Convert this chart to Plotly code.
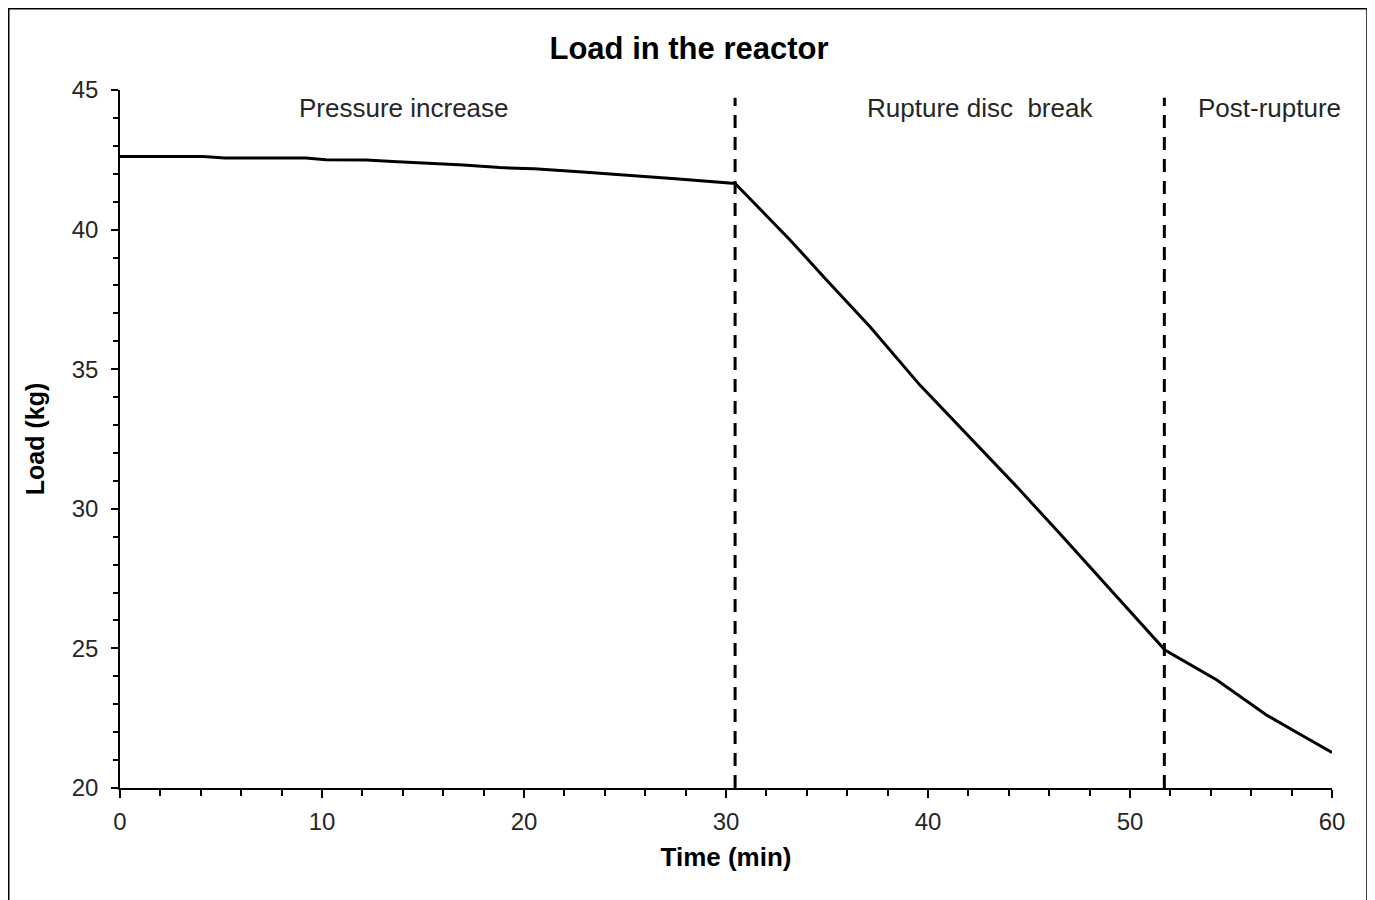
import plotly.graph_objects as go

# Data
time_min = [0, 4.1, 5.2, 9.2, 10.2, 12.2, 13.5, 15.3, 17, 18.8, 20.5, 22.9, 25, 27.5, 30.45,
            33.17, 35, 37.13, 39.6, 42.2, 44.5, 46.5, 49, 51.73, 54.3, 56.77, 58.5, 60]
load_kg = [42.62, 42.62, 42.56, 42.56, 42.50, 42.49, 42.44, 42.38, 42.31, 42.22, 42.18, 42.06,
           41.96, 41.82, 41.65, 39.63, 38.18, 36.52, 34.43, 32.46, 30.71, 29.13, 27.14, 24.94,
           23.87, 22.61, 21.89, 21.27]

phase_bounds = [30.45, 51.7]
phase_labels = ["Pressure increase", "Rupture disc  break", "Post-rupture"]
phase_label_x = [14.06, 42.57, 56.9]

FONT = "Arial, Liberation Sans, sans-serif"

W, H = 1367, 892
L, R, T, B = 112, 43, 82, 112
PW, PH = W - L - R, H - T - B

fig = go.Figure()
fig.add_trace(go.Scatter(x=time_min, y=load_kg, mode="lines",
                         line=dict(color="black", width=3), showlegend=False,
                         hoverinfo="x+y"))

for xb in phase_bounds:
    fig.add_trace(go.Scatter(x=[xb, xb], y=[20, 44.72], mode="lines",
                             line=dict(color="black", width=3, dash="13px,9px"),
                             showlegend=False, hoverinfo="skip"))

for lbl, lx in zip(phase_labels, phase_label_x):
    fig.add_annotation(x=lx, y=44.36, xref="x", yref="y", text=lbl, showarrow=False,
                       yanchor="middle",
                       font=dict(family=FONT, size=26, color="#262626"))

# Outer chart border
fig.add_shape(type="rect", xref="paper", yref="paper",
              x0=(0.75 - L) / PW, x1=(W - 8 - L) / PW,
              y0=(H - B - (H + 20)) / PH, y1=(H - B - 0.75) / PH,
              line=dict(color="black", width=1.5), fillcolor="rgba(0,0,0,0)", layer="below")

fig.update_layout(
    width=W, height=H,
    margin=dict(l=L, r=R, t=T, b=B),
    paper_bgcolor="white", plot_bgcolor="white",
    title=dict(text="<b>Load in the reactor</b>", x=681 / W, xref="container", xanchor="center",
               y=1 - 40 / H, yanchor="middle",
               font=dict(family=FONT, size=31, color="black")),
    font=dict(family=FONT, color="#262626"),
    xaxis=dict(range=[0, 60], dtick=10, tick0=0, showgrid=False, zeroline=False,
               showline=True, linecolor="black", linewidth=1.5,
               ticks="outside", ticklen=8, tickwidth=1.5, tickcolor="black",
               tickfont=dict(family=FONT, size=24, color="#262626"),
               ticklabelstandoff=3,
               minor=dict(dtick=2, ticks="outside", ticklen=6, tickwidth=1.5, tickcolor="black", showgrid=False),
               title=dict(text="<b>Time (min)</b>", standoff=14,
                          font=dict(family=FONT, size=26, color="black"))),
    yaxis=dict(range=[20, 45], dtick=5, tick0=20, showgrid=False, zeroline=False,
               showline=True, linecolor="black", linewidth=1.5,
               ticks="outside", ticklen=7, tickwidth=1.5, tickcolor="black",
               tickfont=dict(family=FONT, size=24, color="#262626"),
               ticklabelstandoff=8,
               minor=dict(dtick=1, ticks="outside", ticklen=5, tickwidth=1.5, tickcolor="black", showgrid=False),
               title=dict(text="<b>Load (kg)</b>", standoff=20,
                          font=dict(family=FONT, size=25, color="black"))),
)

fig.write_html("out.html")
